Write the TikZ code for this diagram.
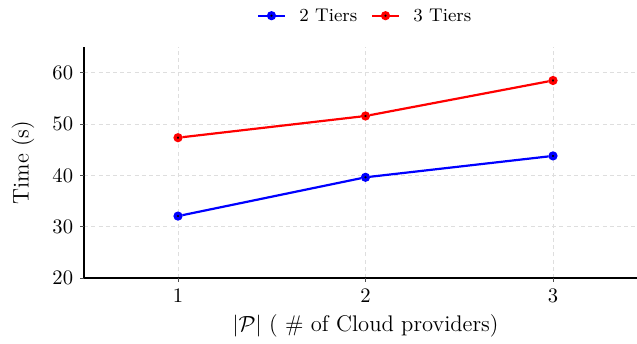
\documentclass[tikz,border=0pt]{standalone}
\usepackage{tikz}
\usepackage{xcolor}
\usepackage{amsmath}
\usetikzlibrary{positioning,calc}
\definecolor{gridgray}{RGB}{222,222,222}
\definecolor{tierblue}{RGB}{0,0,255}
\definecolor{tierred}{RGB}{255,0,0}

\begin{document}
\begin{tikzpicture}[x=93.75pt, y=2.565pt,
    gridline/.style={gridgray, line width=0.5pt, dash pattern=on 2pt off 1.6pt},
    axisline/.style={black, line width=0.8pt},
    tickline/.style={black!70, line width=0.5pt},
    ticklabel/.style={text=black, font=\fontsize{10.3}{12}\selectfont},
    axislabel/.style={font=\fontsize{11.3}{13}\selectfont},
    legendlabel/.style={font=\fontsize{9.2}{11}\selectfont, inner sep=3pt},
    tierline/.style={line width=1.1pt},
    tierdot/.style={circle, draw=#1, fill=black, line width=1.6pt, inner sep=0pt, minimum size=2.9pt}]
    \useasboundingbox (4.75pt,18.8pt) rectangle ++(318.5pt,171.5pt);

    % grid
    \foreach \y in {30,40,50,60}
        \draw[gridline] (0.5,\y) -- (3.45,\y);
    \foreach \x in {1,2,3}
        \draw[gridline] (\x,20) -- (\x,65);

    % axes
    \coordinate (top) at (0.5,65);
    \coordinate (orig) at (0.5,20);
    \coordinate (xend) at (3.45,20);
    \draw[axisline] (top) -- (orig) -- (xend);
    \foreach \y in {20,30,40,50,60}
        \draw[tickline] (0.5,\y) -- ++(-2pt,0) node[left, ticklabel] (ytick\y) {\y};
    \foreach \x in {1,2,3}
        \draw[tickline] (\x,20) -- ++(0,-2pt) node[below, ticklabel] (xtick\x) {\x};

    \node[axislabel, rotate=90] (ylabel) at ($(orig)!0.5!(top)+(-30.6pt,0)$) {Time (s)};
    \node[axislabel, anchor=base] (xlabel) at ($(2,20)+(0,-26.5pt)$) {$|\mathcal{P}|$ ( \# of Cloud providers)};

    % 2 tiers
    \node[tierdot=tierblue] (b1) at (1,32.07) {};
    \node[tierdot=tierblue] (b2) at (2,39.63) {};
    \node[tierdot=tierblue] (b3) at (3,43.8) {};
    \draw[tierline, tierblue] (b1) -- (b2) -- (b3);

    % 3 tiers
    \node[tierdot=tierred] (r1) at (1,47.35) {};
    \node[tierdot=tierred] (r2) at (2,51.58) {};
    \node[tierdot=tierred] (r3) at (3,58.5) {};
    \draw[tierline, tierred] (r1) -- (r2) -- (r3);

    % legend
    \coordinate (lba) at (1.4267,71.13);
    \coordinate (lbb) at (1.5707,71.13);
    \draw[tierline, tierblue] (lba) -- (lbb);
    \node[tierdot=tierblue] (lbm) at ($(lba)!0.5!(lbb)$) {};
    \node[legendlabel, right=4pt of lbb] (lbt) {2 Tiers};

    \coordinate (lra) at (2.0347,71.13);
    \coordinate (lrb) at (2.1787,71.13);
    \draw[tierline, tierred] (lra) -- (lrb);
    \node[tierdot=tierred] (lrm) at ($(lra)!0.5!(lrb)$) {};
    \node[legendlabel, right=4pt of lrb] (lrt) {3 Tiers};
\end{tikzpicture}
\end{document}
